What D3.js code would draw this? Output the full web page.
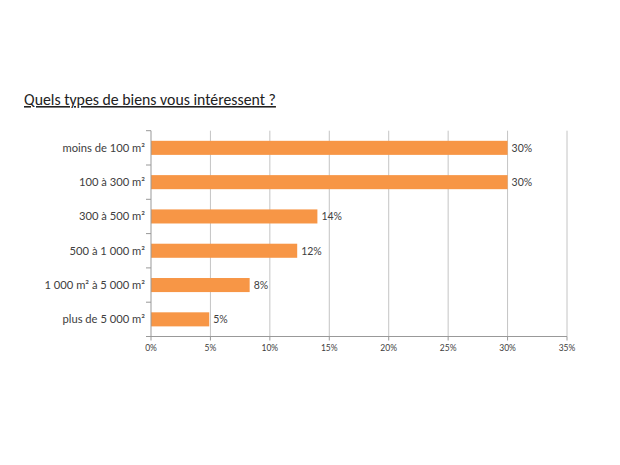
<!DOCTYPE html>
<html><head><meta charset="utf-8">
<script src="https://cdn.jsdelivr.net/npm/d3@7"></script>
<style>body{margin:0;background:#fff;}</style>
</head><body>
<svg id="c" width="620" height="465"></svg>
<script>
const title = "Quels types de biens vous intéressent ?";
const categories = ["moins de 100 m²", "100 à 300 m²", "300 à 500 m²", "500 à 1 000 m²", "1 000 m² à 5 000 m²", "plus de 5 000 m²"];
const values = [30, 30, 14, 12.3, 8.3, 4.9];
const valueLabels = ["30%", "30%", "14%", "12%", "8%", "5%"];
const xTicks = [0, 5, 10, 15, 20, 25, 30, 35];

(function () {
const svg = d3.select("#c");
const font = "Lato, 'Open Sans', sans-serif";
const pLeft = 151, pRight = 567, pTop = 130.7, pBottom = 336.5;

const x = d3.scaleLinear().domain([0, 35]).range([pLeft, pRight]);
const y = d3.scaleBand().domain(categories).range([pTop, pBottom]).paddingInner(0.59).paddingOuter(0.295);
const yb = d3.scaleBand().domain(categories).range([pTop, pBottom]);

svg.append("rect").attr("width", 620).attr("height", 465).attr("fill", "#fff");

svg.append("text").attr("x", 24).attr("y", 105)
  .attr("font-family", "Carlito, Lato, sans-serif").attr("font-size", 15.8).attr("fill", "#222")
  .attr("text-decoration", "underline").text(title);

svg.append("g").selectAll("line").data(xTicks.slice(1)).join("line")
  .attr("x1", d => x(d)).attr("x2", d => x(d)).attr("y1", pTop).attr("y2", pBottom)
  .attr("stroke", "#c4c4c4").attr("stroke-width", 1);

svg.append("g").selectAll("rect").data(values).join("rect")
  .attr("x", pLeft).attr("y", (d, i) => y(categories[i]))
  .attr("width", d => x(d) - pLeft).attr("height", y.bandwidth())
  .attr("fill", "#F79646");

svg.append("g").selectAll("text").data(values).join("text")
  .attr("x", d => x(d) + 4).attr("y", (d, i) => y(categories[i]) + y.bandwidth() / 2 + 4)
  .attr("font-family", font).attr("font-size", 10.5).attr("fill", "#404040")
  .text((d, i) => valueLabels[i]);

const yAxis = svg.append("g");
yAxis.append("line").attr("x1", pLeft).attr("x2", pLeft).attr("y1", pTop).attr("y2", pBottom)
  .attr("stroke", "#999");
yAxis.selectAll("line.tk").data(d3.range(categories.length + 1)).join("line").attr("class", "tk")
  .attr("x1", pLeft - 5).attr("x2", pLeft)
  .attr("y1", i => pTop + i * yb.step()).attr("y2", i => pTop + i * yb.step())
  .attr("stroke", "#999");
yAxis.selectAll("text").data(categories).join("text")
  .attr("x", pLeft - 6).attr("y", d => yb(d) + yb.bandwidth() / 2 + 4)
  .attr("text-anchor", "end").attr("font-family", font).attr("font-size", 11.2).attr("fill", "#404040")
  .text(d => d);

const xAxis = svg.append("g");
xAxis.append("line").attr("x1", pLeft).attr("x2", pRight).attr("y1", pBottom).attr("y2", pBottom)
  .attr("stroke", "#999");
xAxis.selectAll("line.tk").data(xTicks).join("line").attr("class", "tk")
  .attr("x1", d => x(d)).attr("x2", d => x(d)).attr("y1", pBottom).attr("y2", pBottom + 4)
  .attr("stroke", "#999");
xAxis.selectAll("text").data(xTicks).join("text")
  .attr("x", d => x(d)).attr("y", 351)
  .attr("text-anchor", "middle").attr("font-family", font).attr("font-size", 8.5).attr("fill", "#404040")
  .text(d => d + "%");
})();
</script>
</body></html>
